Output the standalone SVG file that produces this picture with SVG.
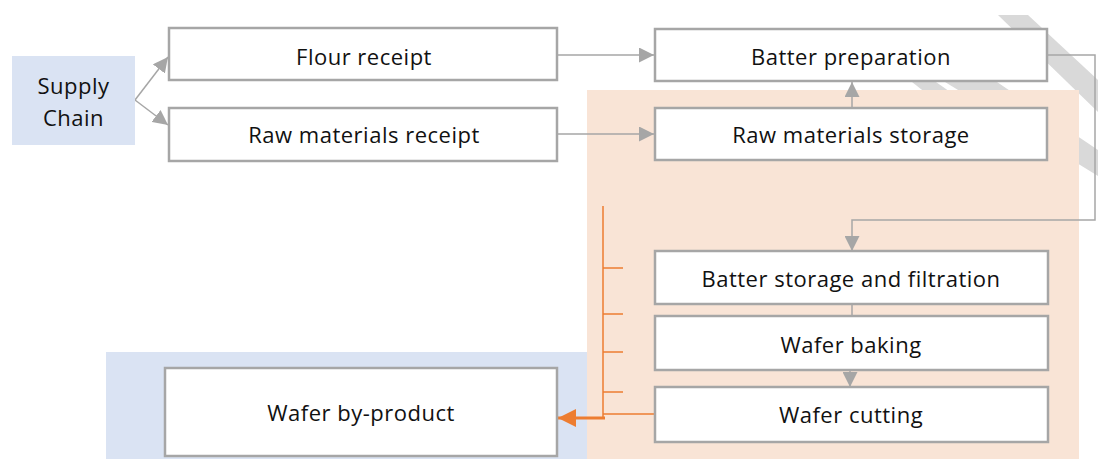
<svg xmlns="http://www.w3.org/2000/svg" width="1098" height="459" viewBox="0 0 1098 459">
  <style>
    .node rect { fill: #ffffff; stroke: #a6a6a6; stroke-width: 2.5; }
    .lbl { font-family: "Open Sans", "Liberation Sans", sans-serif; font-size: 22px; letter-spacing: 0.5px; fill: #111111; text-anchor: middle; }
    .conn { fill: none; stroke: #a6a6a6; stroke-width: 1.5; }
    .orange { fill: none; stroke: #ed7d31; stroke-width: 1.5; }
    .stripe { fill: #d9d9d9; }
  </style>
  <defs>
    <marker id="arrGrayL" viewBox="0 0 10 10" refX="10" refY="5" markerWidth="15" markerHeight="15" markerUnits="userSpaceOnUse" orient="auto">
      <path d="M0,0 L10,5 L0,10 z" fill="#a6a6a6"/>
    </marker>
    <marker id="arrOrange" viewBox="0 0 10 10" refX="10" refY="5" markerWidth="18" markerHeight="18" markerUnits="userSpaceOnUse" orient="auto">
      <path d="M0,0 L10,5 L0,10 z" fill="#ed7d31"/>
    </marker>
  </defs>

  <!-- background decoration -->
  <g id="background">
    <polygon class="stripe" points="998,15 1028,15 1098,80 1098,112"/>
    <polygon class="stripe" points="945,82 997,82 1098,150 1098,176"/>
    <polygon class="stripe" points="912,82 936,82 990,120 960,120"/>
    <rect x="587" y="90" width="492" height="369" fill="#f9e4d6"/>
    <rect x="106" y="352" width="481" height="107" fill="#dae3f3"/>
  </g>

  <!-- connectors -->
  <g id="connectors">
    <line class="conn" x1="135" y1="100" x2="168" y2="57" marker-end="url(#arrGrayL)"/>
    <line class="conn" x1="135" y1="100" x2="168" y2="125" marker-end="url(#arrGrayL)"/>
    <line class="conn" x1="557" y1="55" x2="654" y2="55" marker-end="url(#arrGrayL)"/>
    <line class="conn" x1="556" y1="134" x2="654" y2="134" marker-end="url(#arrGrayL)"/>
    <line class="conn" x1="852" y1="108" x2="852" y2="82" marker-end="url(#arrGrayL)"/>
    <polyline class="conn" points="1047,55 1095,55 1095,220 852,220 852,251" marker-end="url(#arrGrayL)"/>
    <line class="conn" x1="852" y1="304" x2="852" y2="316"/>
    <line class="conn" x1="850" y1="370" x2="850" y2="387" marker-end="url(#arrGrayL)"/>
    <!-- by-product collector -->
    <line class="orange" x1="603" y1="206" x2="603" y2="418"/>
    <line class="orange" x1="603" y1="268" x2="623" y2="268"/>
    <line class="orange" x1="603" y1="314" x2="623" y2="314"/>
    <line class="orange" x1="603" y1="352" x2="623" y2="352"/>
    <line class="orange" x1="603" y1="392" x2="623" y2="392"/>
    <line class="orange" x1="603" y1="414" x2="655" y2="414"/>
    <line x1="605" y1="418" x2="558" y2="418" stroke="#ed7d31" stroke-width="3" marker-end="url(#arrOrange)"/>
  </g>

  <g id="supply-chain">
    <rect x="12" y="56" width="123" height="89" fill="#dae3f3"/>
    <text class="lbl" x="73.5" y="94">Supply</text>
    <text class="lbl" x="73.5" y="126">Chain</text>
  </g>
  <g id="flour-receipt" class="node">
    <rect x="169" y="28" width="388" height="52"/>
    <text class="lbl" x="364" y="65">Flour receipt</text>
  </g>
  <g id="raw-materials-receipt" class="node">
    <rect x="169" y="108" width="388" height="53"/>
    <text class="lbl" x="364" y="143">Raw materials receipt</text>
  </g>
  <g id="batter-preparation" class="node">
    <rect x="655" y="29" width="392" height="52"/>
    <text class="lbl" x="851" y="65">Batter preparation</text>
  </g>
  <g id="raw-materials-storage" class="node">
    <rect x="655" y="108" width="392" height="52"/>
    <text class="lbl" x="851" y="143">Raw materials storage</text>
  </g>
  <g id="batter-storage" class="node">
    <rect x="655" y="251" width="393" height="53"/>
    <text class="lbl" x="851" y="287">Batter storage and filtration</text>
  </g>
  <g id="wafer-baking" class="node">
    <rect x="655" y="316" width="393" height="54"/>
    <text class="lbl" x="851" y="353">Wafer baking</text>
  </g>
  <g id="wafer-cutting" class="node">
    <rect x="655" y="387" width="393" height="55"/>
    <text class="lbl" x="851" y="423">Wafer cutting</text>
  </g>
  <g id="wafer-by-product" class="node">
    <rect x="165" y="368" width="392" height="88"/>
    <text class="lbl" x="361" y="421">Wafer by-product</text>
  </g>
</svg>
